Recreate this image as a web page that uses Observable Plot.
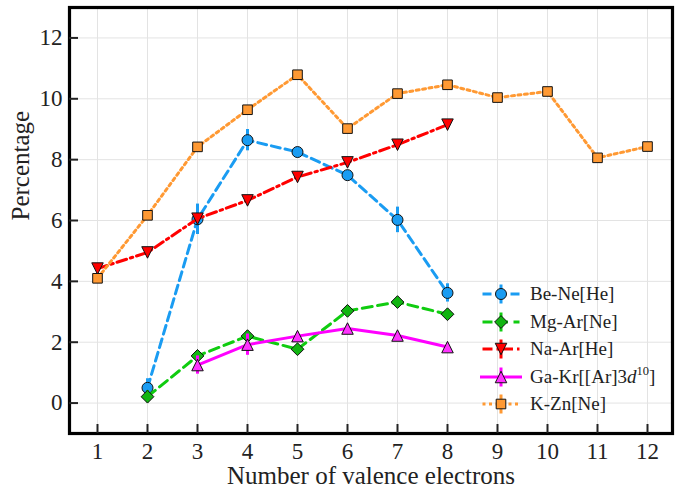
<!DOCTYPE html>
<html><head><meta charset="utf-8">
<script src="https://cdn.jsdelivr.net/npm/d3@7"></script>
<script src="https://cdn.jsdelivr.net/npm/@observablehq/plot@0.6"></script>
<style>
body{margin:0;background:#fff;}
#wrap{position:relative;width:683px;height:489px;}
.lg{position:absolute;left:478px;height:26px;display:flex;align-items:center;font-family:"Liberation Serif",serif;font-size:19px;color:#222;white-space:nowrap;}
.lg svg{margin-right:6px;overflow:visible;}
sup{font-size:12.5px;vertical-align:8px;line-height:0;}
</style></head><body><div id="wrap"></div>
<script>
// ---- data ----
const xTicks = [1,2,3,4,5,6,7,8,9,10,11,12];
const yTicks = [0,2,4,6,8,10,12];
const xLabel = "Number of valence electrons";
const yLabel = "Percentage";

const beNeX = [2,3,4,5,6,7,8];
const beNeY = [0.50,6.04,8.64,8.25,7.49,6.02,3.62];
const beNeE = [0.30,0.50,0.35,0.10,0.10,0.42,0.30];

const mgArX = [2,3,4,5,6,7,8];
const mgArY = [0.21,1.55,2.20,1.77,3.03,3.32,2.92];
const mgArE = [0.20,0.15,0.10,0.10,0.10,0.10,0.10];

const naArX = [1,2,3,4,5,6,7,8];
const naArY = [4.42,4.95,6.06,6.66,7.43,7.91,8.49,9.15];
const naArE = [0.10,0.10,0.10,0.10,0.10,0.10,0.10,0.10];

const gaKrX = [3,4,5,6,7,8];
const gaKrY = [1.25,1.92,2.20,2.45,2.22,1.84];
const gaKrE = [0.30,0.35,0.10,0.10,0.10,0.10];

const kZnX = [1,2,3,4,5,6,7,8,9,10,11,12];
const kZnY = [4.10,6.17,8.42,9.64,10.79,9.02,10.17,10.46,10.04,10.24,8.06,8.43];
const kZnE = [0.10,0.10,0.10,0.10,0.10,0.10,0.10,0.10,0.10,0.10,0.10,0.10];

const names = ["Be-Ne[He]","Mg-Ar[Ne]","Na-Ar[He]","Ga-Kr[[Ar]3d10]","K-Zn[Ne]"];

// ---- marker shapes (fixed pixel size, matplotlib-like) ----
const M = 11.5;
const triDown = {draw(ctx){const h=M/2;ctx.moveTo(0,h);ctx.lineTo(-h,-h);ctx.lineTo(h,-h);ctx.closePath();}};
const triUp = {draw(ctx){const h=M/2;ctx.moveTo(0,-h);ctx.lineTo(-h,h);ctx.lineTo(h,h);ctx.closePath();}};
const diamondM = {draw(ctx){const h=6.4;ctx.moveTo(0,-h);ctx.lineTo(h,0);ctx.lineTo(0,h);ctx.lineTo(-h,0);ctx.closePath();}};
const circleM = {draw(ctx){const r=5.5;ctx.moveTo(r,0);ctx.arc(0,0,r,0,2*Math.PI);ctx.closePath();}};
const squareM = {draw(ctx){const h=4.8;ctx.rect(-h,-h,2*h,2*h);}};
const styles = [
  {line:"#1a9cf2", fill:"#1a9cf2", dash:"9,5", symbol:circleM},
  {line:"#10cc10", fill:"#11b511", dash:"10,5.5", symbol:diamondM},
  {line:"#ff0000", fill:"#ff0000", dash:"10,4,2.5,4", symbol:triDown},
  {line:"#ff00ff", fill:"#ff33ff", dash:null, symbol:triUp},
  {line:"#ff9933", fill:"#ff9933", dash:"3,3.5", symbol:squareM}
];
const series = [
  [beNeX,beNeY,beNeE],[mgArX,mgArY,mgArE],[naArX,naArY,naArE],[gaKrX,gaKrY,gaKrE],[kZnX,kZnY,kZnE]
].map(([X,Y,E],i)=>({name:names[i], st:styles[i], data:X.map((x,j)=>({x, y:Y[j], e:E[j]}))}));

const marks = [
  Plot.gridX(xTicks,{stroke:"#e3e3e3", strokeOpacity:1, strokeWidth:1}),
  Plot.gridY(yTicks,{stroke:"#e3e3e3", strokeOpacity:1, strokeWidth:1})
];
for (const s of series) {
  marks.push(Plot.line(s.data,{x:"x",y:"y",stroke:s.st.line,strokeWidth:3,strokeDasharray:s.st.dash}));
  marks.push(Plot.ruleX(s.data,{x:"x",y1:d=>d.y-d.e,y2:d=>d.y+d.e,stroke:s.st.line,strokeWidth:3}));
  marks.push(Plot.dot(s.data,{x:"x",y:"y",symbol:()=>s.st.symbol,r:5,fill:s.st.fill,stroke:"#111",strokeWidth:1}));
}
marks.push(
  Plot.frame({stroke:"#000", strokeWidth:3.2}),
  Plot.axisX(xTicks,{tickSize:-9, tickPadding:18, strokeWidth:2, fontSize:23, label:null}),
  Plot.axisY(yTicks,{tickSize:-9, tickPadding:16, strokeWidth:2, fontSize:23, label:null}),
  Plot.text([xLabel],{text:d=>d, frameAnchor:"bottom", lineAnchor:"bottom", dy:50, fontSize:25}),
  Plot.text([yLabel],{text:d=>d, frameAnchor:"left", lineAnchor:"top", rotate:-90, dx:-58, fontSize:25})
);

const chart = Plot.plot({
  width:683, height:489,
  marginLeft:69, marginRight:11, marginTop:7, marginBottom:56,
  x:{domain:[0.44,12.5]},
  y:{domain:[-1,13]},
  style:{fontFamily:"Liberation Serif, serif", fontSize:"22px", background:"white", color:"#222"},
  marks
});
const wrap = document.getElementById("wrap");
wrap.appendChild(chart);

// legend overlay
const rowsY = [294,322,349,377,404];
series.forEach((s,i)=>{
  const row = document.createElement("div");
  row.className = "lg";
  row.style.top = (rowsY[i]-13)+"px";
  const svg = d3.create("svg").attr("width",46).attr("height",26);
  const half = s.st.dash ? 18.5 : 21;
  svg.append("line").attr("x1",23-half).attr("x2",23+half).attr("y1",13).attr("y2",13)
    .attr("stroke",s.st.line).attr("stroke-width",3).attr("stroke-dasharray",s.st.dash);
  svg.append("line").attr("x1",23).attr("x2",23).attr("y1",3.5).attr("y2",22.5)
    .attr("stroke",s.st.line).attr("stroke-width",3);
  svg.append("path").attr("d",d3.symbol(s.st.symbol,1)()).attr("transform","translate(23,13)")
    .attr("fill",s.st.fill).attr("stroke","#111").attr("stroke-width",1);
  row.appendChild(svg.node());
  const span = document.createElement("span");
  if (i===3) span.innerHTML = "Ga-Kr[[Ar]3<i>d</i><sup>10</sup>]";
  else span.textContent = s.name;
  row.appendChild(span);
  wrap.appendChild(row);
});
</script></body></html>
